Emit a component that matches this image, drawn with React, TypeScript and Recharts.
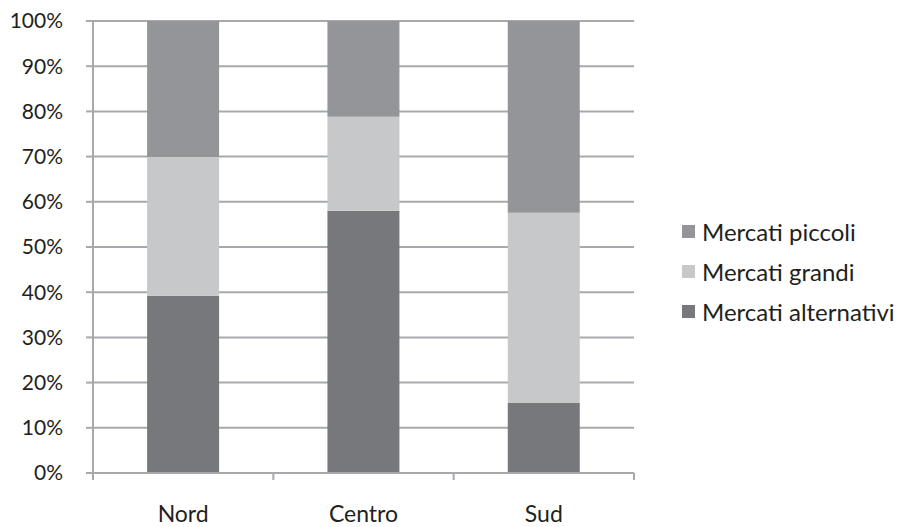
import React from "react";
import { BarChart, Bar, XAxis, YAxis, CartesianGrid, Legend } from "recharts";

// Share of sales channel by area (percent of total)
const areas = ["Nord", "Centro", "Sud"];
const mercatiAlternativi = [39.2, 58.0, 15.5];
const mercatiGrandi = [30.7, 20.8, 42.1];
const mercatiPiccoli = [30.1, 21.2, 42.4];
const yTicks = [0, 10, 20, 30, 40, 50, 60, 70, 80, 90, 100];

const COLORS = {
  alternativi: "#77787b",
  grandi: "#c7c8ca",
  piccoli: "#939598",
};
const GRID = "#a7a9ac";
const TEXT = "#231f20";
const FONT = "Lato, 'Open Sans', sans-serif";

const data = areas.map((area, i) => ({
  area,
  alternativi: mercatiAlternativi[i],
  grandi: mercatiGrandi[i],
  piccoli: mercatiPiccoli[i],
}));

const legendItems = [
  { key: "piccoli", label: "Mercati piccoli", color: COLORS.piccoli },
  { key: "grandi", label: "Mercati grandi", color: COLORS.grandi },
  { key: "alternativi", label: "Mercati alternativi", color: COLORS.alternativi },
];

const LegendBox = () => (
  <div style={{ fontFamily: FONT, fontSize: 24, color: TEXT }}>
    {legendItems.map((it) => (
      <div
        key={it.key}
        style={{ display: "flex", alignItems: "center", height: 40, whiteSpace: "nowrap" }}
      >
        <span
          style={{
            display: "inline-block",
            width: 13,
            height: 13,
            background: it.color,
            marginRight: 7,
          }}
        />
        <span>{it.label}</span>
      </div>
    ))}
  </div>
);

// Category label centred on the band, with tick marks on the band edges
const CategoryTick = (props: any) => {
  const { x, y, payload, index, width, visibleTicksCount } = props;
  const half =
    payload && typeof payload.offset === "number" && payload.offset > 0
      ? payload.offset
      : width / visibleTicksCount / 2;
  const isLast = index === visibleTicksCount - 1;
  return (
    <g>
      <line x1={x - half} x2={x - half} y1={y} y2={y + 7} stroke={GRID} strokeWidth={2} />
      {isLast && (
        <line x1={x + half} x2={x + half} y1={y} y2={y + 7} stroke={GRID} strokeWidth={2} />
      )}
      <text
        x={x}
        y={y + 49}
        textAnchor="middle"
        fill={TEXT}
        fontSize={23}
        fontFamily={FONT}
      >
        {payload.value}
      </text>
    </g>
  );
};

export default function App() {
  return (
    <div style={{ position: "absolute", left: 0, top: 0, background: "#fff" }}>
      <BarChart
        width={897}
        height={527}
        data={data}
        margin={{ top: 21, right: 263, bottom: 0, left: 0 }}
        barCategoryGap="30%"
      >
        <CartesianGrid
          vertical={false}
          stroke={GRID}
          strokeWidth={2}
          strokeDasharray=""
        />
        <XAxis
          dataKey="area"
          height={54}
          axisLine={{ stroke: GRID, strokeWidth: 2 }}
          tickLine={false}
          tickSize={0}
          tickMargin={0}
          interval={0}
          tick={<CategoryTick />}
        />
        <YAxis
          domain={[0, 100]}
          ticks={yTicks}
          width={93}
          interval={0}
          tickFormatter={(v) => `${v}%`}
          axisLine={{ stroke: GRID, strokeWidth: 2 }}
          tickLine={{ stroke: GRID, strokeWidth: 2 }}
          tickSize={7}
          tickMargin={23}
          tick={{ fill: TEXT, fontSize: 21, fontFamily: FONT }}
        />
        <Legend
          layout="horizontal"
          align="center"
          verticalAlign="middle"
          content={<LegendBox />}
          wrapperStyle={{ left: 682, top: 211, width: 215 }}
        />
        <Bar dataKey="alternativi" stackId="s" fill={COLORS.alternativi} isAnimationActive={false} />
        <Bar dataKey="grandi" stackId="s" fill={COLORS.grandi} isAnimationActive={false} />
        <Bar dataKey="piccoli" stackId="s" fill={COLORS.piccoli} isAnimationActive={false} />
      </BarChart>
    </div>
  );
}
